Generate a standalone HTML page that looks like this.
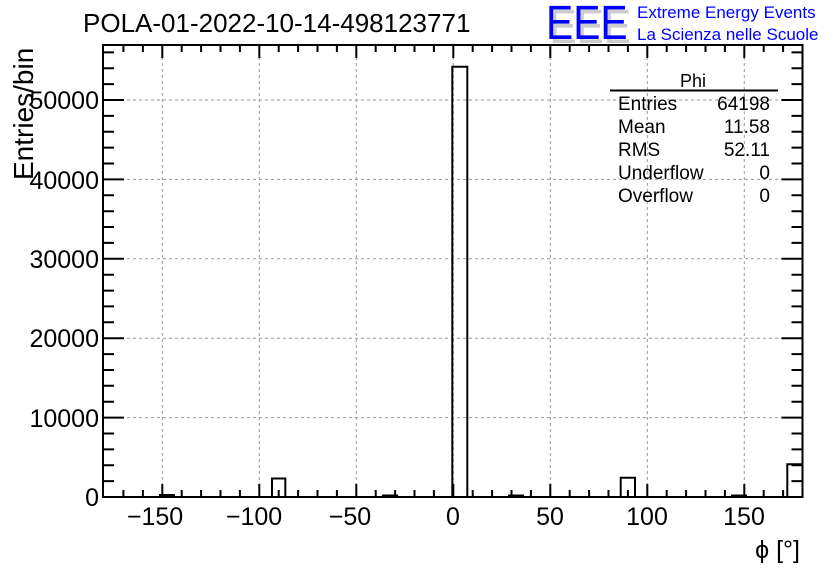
<!DOCTYPE html>
<html><head><meta charset="utf-8"><style>body{margin:0;background:#fff}svg{display:block}text{font-family:"Liberation Sans",sans-serif}</style></head><body>
<svg width="836" height="572" viewBox="0 0 836 572" xmlns="http://www.w3.org/2000/svg">
<rect width="836" height="572" fill="#fff"/>
<g stroke="#999" stroke-width="1" stroke-dasharray="3,3">
<line x1="162.3" y1="45" x2="162.3" y2="497"/><line x1="259.3" y1="45" x2="259.3" y2="497"/><line x1="356.3" y1="45" x2="356.3" y2="497"/><line x1="453.3" y1="45" x2="453.3" y2="497"/><line x1="550.3" y1="45" x2="550.3" y2="497"/><line x1="647.3" y1="45" x2="647.3" y2="497"/><line x1="744.3" y1="45" x2="744.3" y2="497"/>
<line x1="103" y1="417.6" x2="802.5" y2="417.6"/><line x1="103" y1="338.2" x2="802.5" y2="338.2"/><line x1="103" y1="258.8" x2="802.5" y2="258.8"/><line x1="103" y1="179.4" x2="802.5" y2="179.4"/><line x1="103" y1="100" x2="802.5" y2="100"/>
</g>
<g fill="none" stroke="#000" stroke-width="2">
<path d="M104,497 H160 V495 H174 V497 H272 V478.5 H285.3 V497 H383 V495.5 H397 V497 H452.3 V66.7 H467.3 V497 H509 V495.5 H523 V497 H620.7 V477.7 H635 V497 H732 V495.5 H746 V497 H787.3 V464.3 H802.5"/>
<rect x="103" y="45" width="699.5" height="452"/>
<path d="M123.4,497v-7M142.9,497v-7M162.3,497v-13M181.7,497v-7M201.1,497v-7M220.5,497v-7M239.9,497v-7M259.3,497v-13M278.7,497v-7M298.1,497v-7M317.5,497v-7M336.9,497v-7M356.3,497v-13M375.7,497v-7M395.1,497v-7M414.5,497v-7M433.9,497v-7M453.3,497v-13M472.7,497v-7M492.1,497v-7M511.5,497v-7M530.9,497v-7M550.3,497v-13M569.7,497v-7M589.1,497v-7M608.5,497v-7M627.9,497v-7M647.3,497v-13M666.7,497v-7M686.1,497v-7M705.5,497v-7M724.9,497v-7M744.3,497v-13M763.7,497v-7M783.1,497v-7"/>
<path d="M123.4,45v7M142.9,45v7M162.3,45v13M181.7,45v7M201.1,45v7M220.5,45v7M239.9,45v7M259.3,45v13M278.7,45v7M298.1,45v7M317.5,45v7M336.9,45v7M356.3,45v13M375.7,45v7M395.1,45v7M414.5,45v7M433.9,45v7M453.3,45v13M472.7,45v7M492.1,45v7M511.5,45v7M530.9,45v7M550.3,45v13M569.7,45v7M589.1,45v7M608.5,45v7M627.9,45v7M647.3,45v13M666.7,45v7M686.1,45v7M705.5,45v7M724.9,45v7M744.3,45v13M763.7,45v7M783.1,45v7"/>
<path d="M103,497h21M103,481.1h11M103,465.2h11M103,449.4h11M103,433.5h11M103,417.6h21M103,401.7h11M103,385.8h11M103,370h11M103,354.1h11M103,338.2h21M103,322.3h11M103,306.4h11M103,290.6h11M103,274.7h11M103,258.8h21M103,242.9h11M103,227h11M103,211.2h11M103,195.3h11M103,179.4h21M103,163.5h11M103,147.6h11M103,131.8h11M103,115.9h11M103,100h21M103,84.1h11M103,68.2h11M103,52.4h11"/>
<path d="M802.5,497h-21M802.5,481.1h-11M802.5,465.2h-11M802.5,449.4h-11M802.5,433.5h-11M802.5,417.6h-21M802.5,401.7h-11M802.5,385.8h-11M802.5,370h-11M802.5,354.1h-11M802.5,338.2h-21M802.5,322.3h-11M802.5,306.4h-11M802.5,290.6h-11M802.5,274.7h-11M802.5,258.8h-21M802.5,242.9h-11M802.5,227h-11M802.5,211.2h-11M802.5,195.3h-11M802.5,179.4h-21M802.5,163.5h-11M802.5,147.6h-11M802.5,131.8h-11M802.5,115.9h-11M802.5,100h-21M802.5,84.1h-11M802.5,68.2h-11M802.5,52.4h-11"/>
</g>
<line x1="610" y1="90.5" x2="778" y2="90.5" stroke="#000" stroke-width="2"/>
<g font-size="19" fill="#000">
<text x="680" y="87" font-size="18">Phi</text>
<text x="618" y="110">Entries</text><text x="770" y="110" text-anchor="end">64198</text>
<text x="618" y="133">Mean</text><text x="770" y="133" text-anchor="end">11.58</text>
<text x="618" y="156">RMS</text><text x="770" y="156" text-anchor="end">52.11</text>
<text x="618" y="179">Underflow</text><text x="770" y="179" text-anchor="end">0</text>
<text x="618" y="202">Overflow</text><text x="770" y="202" text-anchor="end">0</text>
</g>
<g font-size="25" fill="#000" text-anchor="middle">
<text x="155" y="525">−150</text><text x="254" y="525">−100</text><text x="350" y="525">−50</text><text x="453" y="525">0</text><text x="550" y="525">50</text><text x="647" y="525">100</text><text x="744" y="525">150</text>
</g>
<g font-size="25" fill="#000" text-anchor="end">
<text x="99" y="506">0</text><text x="99" y="427">10000</text><text x="99" y="347">20000</text><text x="99" y="268">30000</text><text x="99" y="189">40000</text><text x="99" y="109">50000</text>
</g>
<text x="800" y="558" font-size="25" text-anchor="end" font-family="Liberation Serif">ϕ [°]</text>
<text transform="translate(33,180) rotate(-90)" font-size="28" text-anchor="start">Entries/bin</text>
<text x="83" y="32" font-size="26">POLA-01-2022-10-14-498123771</text>
<g font-size="48" transform="translate(546,39) scale(0.85,1)"><text x="4" y="4" fill="#ccc">EEE</text><text x="0" y="0" fill="#0000ff">EEE</text></g>
<text x="637" y="18" font-size="17" fill="#0000ff">Extreme Energy Events</text>
<text x="637" y="40" font-size="17" fill="#0000ff">La Scienza nelle Scuole</text>
</svg>
</body></html>
